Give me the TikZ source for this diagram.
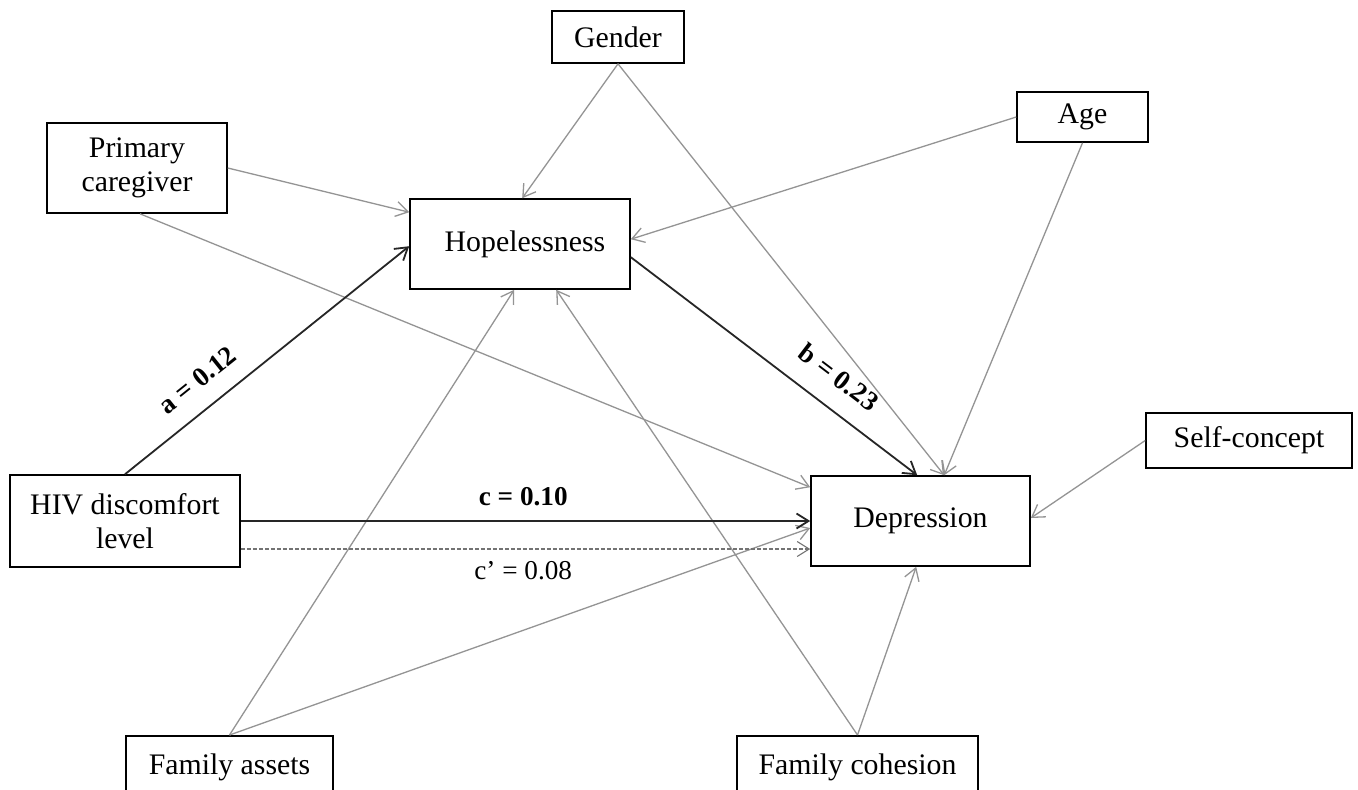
\documentclass[tikz,border=0pt]{standalone}
\usepackage{fontspec}
\setmainfont{Liberation Serif}
\usetikzlibrary{arrows.meta,calc}
\begin{document}
\begin{tikzpicture}[x=0.5pt,y=-0.5pt,
  box/.style={draw=black, line width=0.8pt, rectangle, inner sep=0pt, align=center,
    font=\fontsize{14.9}{17}\selectfont},
  garrow/.style={draw=black!42, line width=0.65pt, -{Straight Barb[length=6pt,width=7.5pt]}},
  karrow/.style={draw=black!85, line width=0.9pt, -{Straight Barb[length=6pt,width=7.5pt]}},
  darrow/.style={draw=black!55, line width=0.55pt, dash pattern=on 2pt off 1pt, -{Straight Barb[length=6pt,width=7.5pt]}},
  coef/.style={font=\fontsize{13.6}{16}\selectfont\bfseries, inner sep=0pt},
  coefn/.style={font=\fontsize{13.6}{16}\selectfont, inner sep=0pt}]
\useasboundingbox (0,0) rectangle (1358,789);
\clip (0,0) rectangle (1358,789);
\fill[white] (0,0) rectangle (1358,789);

\node[box, minimum width=66pt, minimum height=26pt] (gender) at (618,37) {Gender};
\node[box, minimum width=65.5pt, minimum height=25pt] (age) at (1082.5,117) {Age};
\node[box, minimum width=90pt, minimum height=45pt] (pc) at (137,168) {Primary\\caregiver};
\node[box, minimum width=110pt, minimum height=45pt] (hope) at (520,244) {\hspace{5pt}Hopelessness};
\node[box, minimum width=109.5pt, minimum height=45pt] (dep) at (920.5,521) {Depression};
\node[box, minimum width=115pt, minimum height=46pt] (hiv) at (125,521) {HIV discomfort\\level};
\node[box, minimum width=103pt, minimum height=27.5pt] (sc) at (1249,440.5) {Self-concept};
\node[box, minimum width=103.5pt, minimum height=32pt, anchor=north] (fa) at (229.5,735) {\raisebox{3pt}{Family assets}};
\node[box, minimum width=120.5pt, minimum height=32pt, anchor=north] (fc) at (857.5,735) {\raisebox{3pt}{Family cohesion}};

% gray control paths
\draw[garrow] (gender.south) -- ($(hope.north west)+(113,0)$);
\draw[garrow] (gender.south) -- ($(dep.north west)+(134,0)$);
\draw[garrow] (age.west) -- ($(hope.north east)+(0,41)$);
\draw[garrow] (age.south) -- ($(dep.north west)+(134,0)$);
\draw[garrow] (pc.east) -- ($(hope.north west)+(0,14)$);
\draw[garrow] ($(pc.south)+(3,0)$) -- ($(dep.north west)+(0,12)$);
\draw[garrow] (fa.north) -- ($(hope.south west)+(105,0)$);
\draw[garrow] (fa.north) -- ($(dep.west)+(0,7)$);
\draw[garrow] (fc.north) -- ($(hope.south west)+(147,0)$);
\draw[garrow] (fc.north) -- ($(dep.south west)+(106,0)$);
\draw[garrow] (sc.west) -- ($(dep.east)+(0,-3)$);

% main paths
\draw[karrow] (hiv.north) -- ($(hope.north west)+(0,48)$)
  node[coef, sloped, above=9pt, pos=0.317] (la) {a = 0.12};
\draw[karrow] ($(hope.north east)+(0,59)$) -- ($(dep.north west)+(107,0)$)
  node[coef, sloped, above=10pt, pos=0.662] (lb) {b = 0.23};
\draw[karrow] (hiv.east) -- (dep.west)
  node[coef, above=7pt, pos=0.496] (lc) {c = 0.10};
\draw[darrow] ($(hiv.east)+(0,28)$) -- ($(dep.west)+(0,28)$)
  node[coefn, below=6pt, pos=0.496] (lcp) {c’ = 0.08};
\end{tikzpicture}
\end{document}
